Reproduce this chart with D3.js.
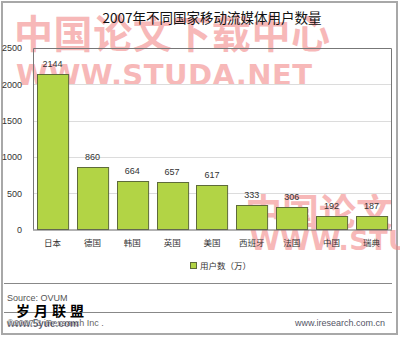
<!DOCTYPE html>
<html>
<head>
<meta charset="utf-8">
<script src="https://cdn.jsdelivr.net/npm/d3@7"></script>
<style>
  body { margin: 0; background: #fff; }
  svg { display: block; }
</style>
</head>
<body>
<div id="chart"></div>
<script>
// chart data
var countries = ["日本", "德国", "韩国", "英国", "美国", "西班牙", "法国", "中国", "瑞典"];
var users = [2144, 860, 664, 657, 617, 333, 306, 192, 187];
var yTicks = [0, 500, 1000, 1500, 2000, 2500];

var W = 400, H = 337;
var margin = { top: 48, right: 9, bottom: 107, left: 33 };
var cjk = "'Noto Sans CJK SC', sans-serif";
var latin = "'Liberation Sans', Arial, sans-serif";

var svg = d3.select("#chart").append("svg")
    .attr("width", W)
    .attr("height", H);

// outer frame
svg.append("rect")
    .attr("x", 2).attr("y", 2)
    .attr("width", W - 5).attr("height", H - 5)
    .attr("fill", "#fff")
    .attr("stroke", "#a8a8a8")
    .attr("stroke-width", 2);

/****** watermarks (behind the chart text) ******/
var wm = svg.append("g")
    .attr("fill", "#f28a8a")
    .attr("opacity", 0.6)
    .attr("font-weight", "bold");

wm.append("text")
    .attr("x", 14).attr("y", 48)
    .attr("font-family", cjk)
    .attr("font-size", "39px")
    .attr("textLength", 316)
    .text("中国论文下载中心");

wm.append("text")
    .attr("x", 16).attr("y", 85)
    .attr("font-family", "'DejaVu Sans', sans-serif")
    .attr("font-size", "29px")
    .attr("textLength", 296)
    .text("WWW.STUDA.NET");

wm.append("text")
    .attr("x", 245).attr("y", 226)
    .attr("font-family", cjk)
    .attr("font-size", "37px")
    .text("中国论文");

wm.append("text")
    .attr("x", 250).attr("y", 250)
    .attr("font-family", "'DejaVu Sans', sans-serif")
    .attr("font-size", "27px")
    .attr("textLength", 160)
    .text("WWW.STU");

// title
svg.append("text")
    .attr("x", 212).attr("y", 23)
    .attr("text-anchor", "middle")
    .attr("font-family", cjk)
    .attr("font-size", "13.5px")
    .attr("fill", "#111")
    .text("2007年不同国家移动流媒体用户数量");

var x = d3.scaleBand()
    .domain(countries)
    .range([margin.left, W - margin.right])
    .paddingInner(0.22)
    .paddingOuter(0.1);

var y = d3.scaleLinear()
    .domain([0, 2500])
    .range([H - margin.bottom - 0.5, margin.top]);

// gridlines
svg.append("g")
    .selectAll("line")
    .data(yTicks.filter(d => d > 0 && d < 2500))
    .join("line")
    .attr("x1", margin.left).attr("x2", W - margin.right)
    .attr("y1", d => Math.round(y(d)) + 0.5)
    .attr("y2", d => Math.round(y(d)) + 0.5)
    .attr("stroke", "#dcdcdc");

// plot frame (left, top, right)
svg.append("path")
    .attr("d", "M" + (margin.left + 0.5) + "," + (y(0)) +
        "V" + (Math.round(y(2500)) + 0.5) +
        "H" + (W - margin.right + 0.5) +
        "V" + y(0))
    .attr("fill", "none")
    .attr("stroke", "#777");

// y axis labels
var yAxis = svg.append("g")
    .attr("transform", "translate(" + margin.left + ",0)")
    .call(d3.axisLeft(y).tickValues(yTicks).tickFormat(d3.format("d")).tickSize(0).tickPadding(11));
yAxis.select(".domain").remove();
yAxis.selectAll("text")
    .attr("font-family", latin)
    .attr("font-size", "9px")
    .attr("fill", "#333");

// bars
svg.append("g")
    .selectAll("rect")
    .data(users)
    .join("rect")
    .attr("x", (d, i) => Math.round(x(countries[i])) + 0.5)
    .attr("y", d => Math.round(y(d)) + 0.5)
    .attr("width", x.bandwidth())
    .attr("height", d => y(0) - Math.round(y(d)) - 0.5)
    .attr("fill", "#b2d445")
    .attr("stroke", "#5e6b3a")
    .attr("stroke-width", 1);

// value labels
svg.append("g")
    .selectAll("text")
    .data(users)
    .join("text")
    .attr("x", (d, i) => x(countries[i]) + x.bandwidth() / 2)
    .attr("y", d => y(d) - 7)
    .attr("text-anchor", "middle")
    .attr("font-family", latin)
    .attr("font-size", "9px")
    .attr("fill", "#333")
    .text(d => d);

// x axis
var xAxis = svg.append("g")
    .attr("transform", "translate(0," + y(0) + ")")
    .call(d3.axisBottom(x).tickSize(0).tickPadding(10));
xAxis.select(".domain")
    .attr("d", "M" + margin.left + ",0.5H" + (W - margin.right + 1))
    .attr("stroke", "#666");
xAxis.selectAll("text")
    .attr("font-family", cjk)
    .attr("font-size", "8.5px")
    .attr("fill", "#333");

// legend
svg.append("rect")
    .attr("x", 190.5).attr("y", 262.5)
    .attr("width", 6).attr("height", 6)
    .attr("fill", "#b2d445")
    .attr("stroke", "#5e6b3a");
svg.append("text")
    .attr("x", 200).attr("y", 269)
    .attr("font-family", cjk)
    .attr("font-size", "8.5px")
    .attr("fill", "#333")
    .text("用户数（万）");

// separators
[283.5, 312.5].forEach(function (yy) {
    svg.append("line")
        .attr("x1", 4).attr("x2", 392)
        .attr("y1", yy).attr("y2", yy)
        .attr("stroke", "#888");
});

svg.append("text")
    .attr("x", 7).attr("y", 301)
    .attr("font-family", latin)
    .attr("font-size", "9px")
    .attr("fill", "#555")
    .text("Source:  OVUM");

svg.append("text")
    .attr("x", 7).attr("y", 326)
    .attr("font-family", latin)
    .attr("font-size", "9px")
    .attr("fill", "#666")
    .text("©2007.3 iResearch Inc .");

svg.append("text")
    .attr("x", 385).attr("y", 326)
    .attr("text-anchor", "end")
    .attr("font-family", latin)
    .attr("font-size", "9px")
    .attr("fill", "#556")
    .text("www.iresearch.com.cn");

// site stamp bottom left
svg.append("text")
    .attr("x", 16).attr("y", 316)
    .attr("font-family", cjk)
    .attr("font-size", "14px")
    .attr("font-weight", "bold")
    .attr("fill", "#000")
    .attr("letter-spacing", "4px")
    .text("岁月联盟");

svg.append("text")
    .attr("x", 7).attr("y", 327)
    .attr("font-family", latin)
    .attr("font-size", "10px")
    .attr("font-weight", "bold")
    .attr("fill", "#223")
    .attr("stroke", "#fff")
    .attr("stroke-width", 0.3)
    .text("www.5yue.com");
</script>
</body>
</html>
